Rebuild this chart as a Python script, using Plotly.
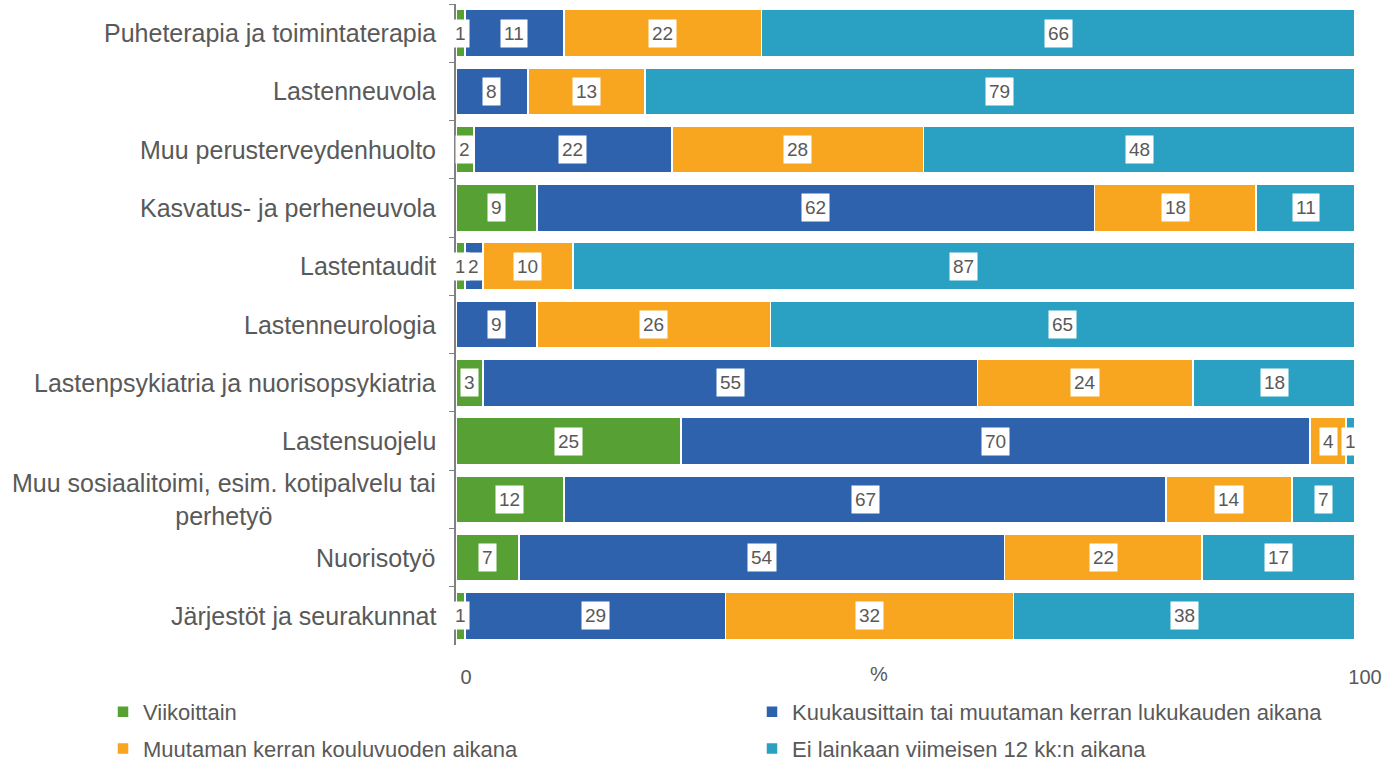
import plotly.graph_objects as go

categories = [
    "Puheterapia ja toimintaterapia",
    "Lastenneuvola",
    "Muu perusterveydenhuolto",
    "Kasvatus- ja perheneuvola",
    "Lastentaudit",
    "Lastenneurologia",
    "Lastenpsykiatria ja nuorisopsykiatria",
    "Lastensuojelu",
    "Muu sosiaalitoimi, esim. kotipalvelu tai<br>perhetyö",
    "Nuorisotyö",
    "Järjestöt ja seurakunnat",
]

series_names = [
    "Viikoittain",
    "Kuukausittain tai muutaman kerran lukukauden aikana",
    "Muutaman kerran kouluvuoden aikana",
    "Ei lainkaan viimeisen 12 kk:n aikana",
]

viikoittain = [1, 0, 2, 9, 1, 0, 3, 25, 12, 7, 1]
kuukausittain = [11, 8, 22, 62, 2, 9, 55, 70, 67, 54, 29]
muutaman = [22, 13, 28, 18, 10, 26, 24, 4, 14, 22, 32]
ei_lainkaan = [66, 79, 48, 11, 87, 65, 18, 1, 7, 17, 38]

colors = ["#56A034", "#2F62AD", "#F8A51F", "#2AA0C2"]
series_values = [viikoittain, kuukausittain, muutaman, ei_lainkaan]
legend_ids = ["legend", "legend2", "legend", "legend2"]

FONT = "Liberation Sans, Arial, sans-serif"
TXT = "#595959"

fig = go.Figure()
for i, (name, vals, col) in enumerate(zip(series_names, series_values, colors)):
    fig.add_trace(go.Bar(
        y=categories, x=vals, name=name, orientation="h",
        marker=dict(color=col, line=dict(color="white", width=1.5)),
        hoverinfo="x+name", legend=legend_ids[i], legendgroup=f"g{i}",
    ))

annotations = []
for ci, cat in enumerate(categories):
    cum = 0
    for vals in series_values:
        v = vals[ci]
        if v > 0:
            annotations.append(dict(
                x=cum + v / 2, y=cat, xref="x", yref="y", text=str(v),
                showarrow=False, bgcolor="white", borderpad=3,
                font=dict(family=FONT, size=19, color=TXT),
            ))
        cum += v
    annotations.append(dict(
        x=0, y=cat, xref="paper", yref="y", text=cat, xanchor="right",
        xshift=-18, align="center", showarrow=False,
        font=dict(family=FONT, size=25, color=TXT),
    ))

annotations.append(dict(
    x=0.47, y=-0.025, xref="paper", yref="paper", text="%", showarrow=False,
    yanchor="top", font=dict(family=FONT, size=20, color=TXT),
))

leg_common = dict(
    orientation="v", xref="container", yref="container",
    xanchor="left", yanchor="top", y=1 - 691 / 763,
    font=dict(family=FONT, size=22, color=TXT), itemwidth=30,
    tracegroupgap=5, bgcolor="rgba(0,0,0,0)", traceorder="grouped",
)

fig.update_layout(
    barmode="stack",
    bargap=0.194,
    width=1393, height=763,
    margin=dict(l=456, r=38, t=4, b=118, autoexpand=False),
    paper_bgcolor="white", plot_bgcolor="white",
    font=dict(family=FONT, size=18, color=TXT),
    annotations=annotations,
    showlegend=True,
    legend=dict(x=103 / 1393, **leg_common),
    legend2=dict(x=752 / 1393, **leg_common),
    xaxis=dict(
        range=[0, 100], tickvals=[0, 100], ticktext=["0", "100"],
        showgrid=True, gridcolor="#D9D9D9", griddash="dot", zeroline=False,
        showline=False, ticks="", tickfont=dict(family=FONT, size=20, color=TXT),
        ticklabelshift=10, ticklabelstandoff=18, fixedrange=True,
    ),
    yaxis=dict(
        autorange="reversed", showticklabels=False, showline=True,
        linecolor="#808080", linewidth=1.5, ticks="outside", tickson="boundaries",
        ticklen=5, tickcolor="#808080", showgrid=False, fixedrange=True,
    ),
)

fig.write_html(
    "out.html",
    config={"displayModeBar": False},
    post_script="document.body.style.margin='0';document.body.style.overflow='hidden';",
)
